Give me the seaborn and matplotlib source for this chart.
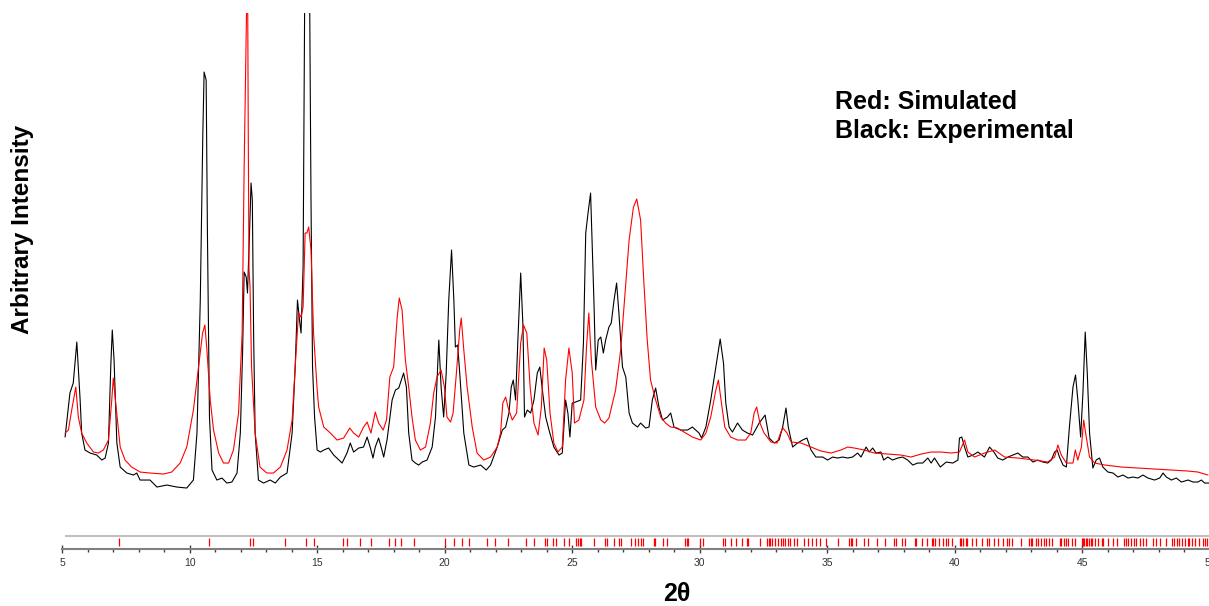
import numpy as np
import matplotlib
matplotlib.use('Agg')
import matplotlib.pyplot as plt
import seaborn as sns
from matplotlib.ticker import MultipleLocator

# experimental pattern (2theta, arbitrary intensity)
exp_2theta = [5.12, 5.18, 5.31, 5.44, 5.58, 5.71, 5.77, 5.90, 6.10, 6.36, 6.56, 6.69, 6.82, 6.91, 6.97,
              7.04, 7.15, 7.28, 7.54, 7.80, 7.93, 8.06, 8.45, 8.72, 9.11, 9.50, 9.89, 10.15, 10.29, 10.42,
              10.52, 10.57, 10.65, 10.70, 10.78, 10.88, 11.07, 11.27, 11.46, 11.66, 11.86, 11.99, 12.08,
              12.14, 12.22, 12.27, 12.35, 12.41, 12.46, 12.51, 12.57, 12.70, 12.90, 13.16, 13.36, 13.56,
              13.82, 14.02, 14.14, 14.23, 14.31, 14.37, 14.45, 14.51, 14.60, 14.71, 14.76, 14.82, 14.90,
              15.00, 15.13, 15.26, 15.45, 15.65, 15.98, 16.17, 16.30, 16.43, 16.63, 16.82, 16.96, 17.09,
              17.19, 17.28, 17.41, 17.51, 17.61, 17.74, 17.94, 18.07, 18.20, 18.39, 18.50, 18.59, 18.72,
              18.85, 18.98, 19.12, 19.31, 19.51, 19.64, 19.77, 19.86, 19.96, 20.06, 20.16, 20.27, 20.36,
              20.42, 20.51, 20.59, 20.75, 20.95, 21.14, 21.41, 21.63, 21.80, 22.06, 22.26, 22.39, 22.52,
              22.61, 22.69, 22.78, 22.87, 22.98, 23.07, 23.13, 23.24, 23.37, 23.50, 23.63, 23.73, 23.83,
              23.96, 24.09, 24.28, 24.48, 24.61, 24.74, 24.83, 24.91, 25.00, 25.13, 25.33, 25.44, 25.53,
              25.62, 25.72, 25.85, 25.92, 26.02, 26.12, 26.22, 26.31, 26.44, 26.53, 26.64, 26.74, 26.83,
              26.97, 27.10, 27.23, 27.36, 27.56, 27.68, 27.88, 28.01, 28.14, 28.27, 28.40, 28.54, 28.73,
              28.86, 28.99, 29.25, 29.52, 29.71, 29.84, 29.97, 30.07, 30.24, 30.43, 30.63, 30.80, 30.93,
              31.02, 31.15, 31.28, 31.48, 31.67, 31.87, 32.07, 32.33, 32.56, 32.72, 32.92, 33.11, 33.25,
              33.38, 33.47, 33.64, 33.83, 34.03, 34.20, 34.36, 34.55, 34.82, 35.01, 35.21, 35.40, 35.60,
              35.80, 35.99, 36.19, 36.32, 36.52, 36.64, 36.78, 36.91, 37.10, 37.21, 37.37, 37.56, 37.76,
              37.95, 38.15, 38.35, 38.54, 38.74, 38.94, 39.07, 39.20, 39.43, 39.66, 39.92, 40.12, 40.18,
              40.27, 40.38, 40.51, 40.71, 40.90, 41.16, 41.36, 41.53, 41.68, 41.88, 42.08, 42.27, 42.47,
              42.66, 42.86, 43.06, 43.25, 43.45, 43.64, 43.78, 43.91, 44.01, 44.10, 44.24, 44.37, 44.49,
              44.63, 44.73, 44.82, 44.93, 45.02, 45.11, 45.19, 45.28, 45.41, 45.54, 45.67, 45.80, 46.00,
              46.20, 46.39, 46.59, 46.79, 46.98, 47.18, 47.37, 47.57, 47.83, 48.03, 48.16, 48.29, 48.49,
              48.68, 48.88, 49.14, 49.34, 49.53, 49.66, 49.79, 49.99]
exp_int = [112, 126, 156, 166, 207, 149, 116, 99, 96, 94, 89, 91, 106, 182, 219,
           189, 106, 82, 76, 74, 76, 69, 69, 62, 64, 62, 61, 69, 116, 249,
           416, 477, 469, 316, 132, 79, 69, 71, 66, 67, 76, 116, 199,
           277, 272, 256, 316, 366, 349, 216, 116, 69, 66, 69, 66, 72,
           76, 116, 182, 249, 229, 216, 282, 540, 620, 540, 349, 182, 132,
           99, 97, 99, 101, 94, 86, 96, 106, 97, 101, 102, 112, 101,
           91, 102, 111, 102, 92, 109, 149, 159, 161, 176, 162, 116, 89,
           86, 84, 87, 89, 102, 132, 209, 162, 132, 176, 249, 299, 249,
           202, 204, 176, 116, 84, 82, 84, 79, 84, 102, 119, 122, 136,
           162, 169, 149, 209, 276, 222, 132, 139, 136, 149, 176, 182, 159,
           132, 119, 102, 94, 96, 149, 136, 112, 146, 147, 149, 206, 316,
           336, 356, 249, 179, 209, 212, 196, 209, 222, 226, 249, 266, 236,
           182, 172, 136, 126, 122, 126, 121, 122, 149, 161, 142, 129, 132,
           136, 122, 119, 119, 122, 119, 116, 111, 122, 149, 182, 210, 186,
           146, 122, 117, 126, 119, 116, 114, 126, 134, 111, 106, 109, 122,
           141, 122, 102, 106, 109, 111, 99, 92, 92, 89, 92, 91, 92,
           91, 92, 96, 92, 102, 97, 101, 96, 97, 89, 92, 89, 91,
           92, 89, 84, 86, 86, 91, 86, 91, 82, 87, 86, 89, 111,
           112, 102, 92, 94, 97, 92, 102, 97, 91, 89, 92, 94, 96,
           92, 92, 87, 89, 87, 86, 89, 97, 99, 92, 84, 82, 122,
           162, 174, 149, 112, 156, 217, 176, 116, 81, 89, 91, 82, 77,
           76, 72, 74, 71, 72, 71, 74, 71, 69, 71, 76, 72, 69,
           71, 67, 69, 67, 67, 69, 66, 66]

# simulated pattern
sim_2theta = [5.12, 5.25, 5.38, 5.54, 5.64, 5.77, 5.97, 6.23, 6.43, 6.62, 6.82, 6.95, 7.01, 7.12, 7.28,
              7.47, 7.73, 8.06, 8.45, 8.98, 9.30, 9.63, 9.89, 10.15, 10.35, 10.51, 10.60, 10.68, 10.81,
              10.94, 11.14, 11.33, 11.53, 11.72, 11.92, 12.06, 12.14, 12.22, 12.27, 12.30, 12.33, 12.37,
              12.43, 12.57, 12.76, 13.03, 13.29, 13.56, 13.82, 14.02, 14.14, 14.27, 14.37, 14.45, 14.53,
              14.60, 14.67, 14.76, 14.86, 15.00, 15.06, 15.26, 15.52, 15.78, 16.04, 16.28, 16.43, 16.63,
              16.82, 16.96, 17.11, 17.28, 17.41, 17.59, 17.72, 17.85, 18.00, 18.14, 18.22, 18.33, 18.46,
              18.59, 18.72, 18.85, 19.05, 19.25, 19.44, 19.57, 19.70, 19.86, 19.99, 20.09, 20.23, 20.33,
              20.46, 20.59, 20.65, 20.75, 20.88, 21.08, 21.27, 21.53, 21.80, 22.06, 22.19, 22.28, 22.39,
              22.48, 22.65, 22.82, 22.98, 23.09, 23.22, 23.35, 23.50, 23.66, 23.79, 23.90, 24.00, 24.13,
              24.28, 24.44, 24.61, 24.74, 24.87, 25.00, 25.09, 25.26, 25.46, 25.56, 25.65, 25.75, 25.92,
              26.12, 26.27, 26.44, 26.70, 26.90, 27.05, 27.23, 27.40, 27.53, 27.68, 27.81, 27.94, 28.07,
              28.27, 28.47, 28.66, 28.86, 29.12, 29.45, 29.71, 30.04, 30.24, 30.43, 30.63, 30.73, 30.85,
              30.98, 31.21, 31.48, 31.80, 32.00, 32.13, 32.23, 32.36, 32.52, 32.79, 33.03, 33.18, 33.26,
              33.42, 33.58, 33.97, 34.36, 34.75, 35.14, 35.53, 35.80, 36.06, 36.45, 36.84, 37.37, 37.89,
              38.28, 38.68, 39.07, 39.46, 39.86, 40.18, 40.38, 40.51, 40.77, 41.16, 41.56, 41.95, 42.47,
              43.12, 43.64, 43.91, 44.04, 44.17, 44.37, 44.63, 44.72, 44.82, 44.96, 45.05, 45.15, 45.28,
              45.48, 45.88, 46.53, 47.18, 47.83, 48.49, 49.14, 49.53, 49.92]
sim_int = [116, 119, 139, 162, 132, 116, 106, 97, 96, 99, 109, 149, 171, 142, 102,
           89, 82, 77, 76, 75, 77, 86, 102, 139, 182, 216, 224, 199, 149,
           119, 96, 86, 86, 99, 136, 216, 382, 516, 600, 420, 280, 262,
           182, 116, 82, 76, 76, 82, 99, 129, 182, 236, 232, 242, 316,
           316, 322, 299, 216, 160, 142, 122, 116, 109, 111, 121, 116, 112,
           122, 127, 116, 137, 126, 119, 129, 172, 182, 232, 251, 239, 189,
           162, 132, 109, 99, 102, 126, 156, 172, 179, 162, 132, 127, 136,
           176, 219, 231, 199, 162, 122, 96, 89, 92, 102, 116, 146, 152,
           142, 129, 136, 206, 224, 216, 162, 126, 114, 142, 201, 189, 136,
           106, 97, 102, 169, 201, 176, 126, 129, 149, 202, 236, 189, 142,
           129, 126, 131, 159, 199, 249, 309, 342, 350, 329, 266, 209, 169,
           149, 132, 126, 122, 121, 116, 112, 109, 116, 132, 159, 169, 146,
           122, 112, 109, 109, 116, 136, 142, 126, 116, 107, 106, 117, 121,
           116, 107, 106, 102, 98, 96, 99, 102, 101, 99, 96, 95, 94,
           92, 95, 97, 97, 96, 97, 109, 97, 92, 96, 99, 92, 91,
           89, 87, 92, 104, 94, 86, 86, 99, 89, 102, 129, 112, 92,
           86, 84, 82, 81, 80, 79, 78, 77, 74]

# calculated reflection positions
refl_2theta = [7.25, 10.77, 12.35, 12.47, 13.75, 14.58, 14.89, 16.00, 16.17, 16.67, 17.12, 17.81, 18.04,
               18.27, 18.79, 20.03, 20.38, 20.69, 20.95, 21.67, 21.97, 22.49, 23.17, 23.50, 23.92, 24.00,
               24.26, 24.35, 24.67, 24.87, 25.16, 25.22, 25.29, 25.36, 25.85, 26.27, 26.38, 26.64, 26.83,
               26.90, 27.29, 27.48, 27.58, 27.68, 27.77, 28.21, 28.25, 28.54, 28.71, 29.41, 29.48, 29.54,
               30.01, 30.11, 30.93, 30.98, 31.22, 31.41, 31.64, 31.84, 31.90, 32.37, 32.63, 32.70, 32.76,
               32.83, 32.96, 33.05, 33.18, 33.28, 33.34, 33.44, 33.54, 33.70, 33.83, 34.07, 34.25, 34.38,
               34.55, 34.71, 34.93, 35.43, 35.85, 35.92, 35.98, 36.14, 36.44, 36.59, 36.96, 37.26, 37.61,
               37.68, 37.94, 38.05, 38.44, 38.49, 38.73, 38.92, 39.09, 39.14, 39.22, 39.38, 39.54, 39.64,
               39.75, 39.90, 40.19, 40.25, 40.32, 40.42, 40.49, 40.69, 40.82, 41.05, 41.27, 41.34, 41.54,
               41.71, 41.89, 42.06, 42.12, 42.22, 42.58, 42.91, 42.97, 43.04, 43.17, 43.27, 43.38, 43.48,
               43.59, 43.69, 43.82, 44.11, 44.18, 44.28, 44.35, 44.45, 44.58, 44.71, 44.97, 45.03, 45.08,
               45.13, 45.18, 45.24, 45.33, 45.39, 45.50, 45.63, 45.76, 45.81, 46.02, 46.18, 46.37, 46.63,
               46.70, 46.80, 46.90, 47.03, 47.12, 47.25, 47.38, 47.48, 47.75, 47.88, 48.03, 48.27, 48.53,
               48.59, 48.70, 48.79, 48.90, 49.03, 49.12, 49.18, 49.31, 49.42, 49.58, 49.73, 49.81, 49.90]

sns.set_style('white')
plt.rcParams['font.family'] = ['Liberation Sans', 'DejaVu Sans']

fig = plt.figure(figsize=(12.09, 6.06), dpi=100)
ax = fig.add_axes([0.0513, 0.094, 0.9495, 0.8845])

sns.lineplot(x=exp_2theta, y=exp_int, color='black', lw=0.8, estimator=None, sort=False, ax=ax)
sns.lineplot(x=sim_2theta, y=sim_int, color='#ff0000', lw=0.8, estimator=None, sort=False, ax=ax)

# reflection marker strip
ax.hlines(13, 5.12, 50, color='#c0c0c0', lw=1.5)
ax.vlines(refl_2theta, 3, 11.5, color='#ff0000', lw=0.9)

ax.set_xlim(5, 50)
ax.set_ylim(0, 536)
ax.set_yticks([])
ax.set_xlabel('')
ax.set_ylabel('')
for s in ['top', 'right', 'left']:
    ax.spines[s].set_visible(False)
ax.spines['bottom'].set_color('#808080')
ax.spines['bottom'].set_linewidth(1.5)

ax.xaxis.set_major_locator(MultipleLocator(5))
ax.xaxis.set_minor_locator(MultipleLocator(1))
ax.tick_params(axis='x', which='major', direction='inout', length=6, width=1,
               color='#404040', labelsize=7.5, labelcolor='#333333', pad=3.5, bottom=True)
ax.tick_params(axis='x', which='minor', direction='out', length=2.5, width=1,
               color='#404040', bottom=True)

fig.text(677 / 1209, 1 - 594 / 606, '2θ', fontsize=18, fontweight='bold', color='black',
         ha='center', va='center')
fig.text(22 / 1209, 1 - 229 / 606, 'Arbitrary Intensity', fontsize=17.5, fontweight='bold',
         color='black', rotation=90, ha='center', va='center')
fig.text(835 / 1209, 1 - 109 / 606, 'Red: Simulated', fontsize=18, fontweight='bold',
         color='black', ha='left', va='baseline')
fig.text(835 / 1209, 1 - 138 / 606, 'Black: Experimental', fontsize=18, fontweight='bold',
         color='black', ha='left', va='baseline')

fig.savefig('out.png', dpi=100)
